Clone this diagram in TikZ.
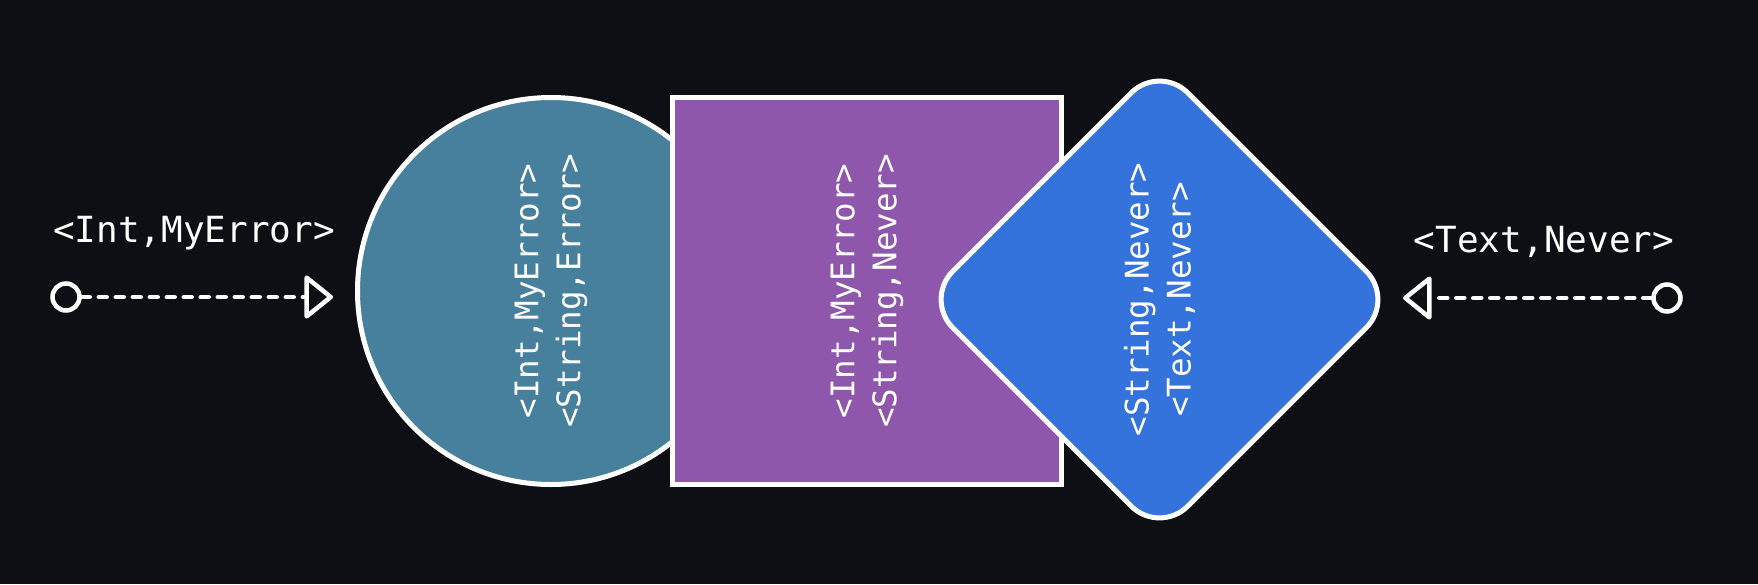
\documentclass[tikz,border=0pt]{standalone}
\usepackage{fontspec}
\setmonofont{DejaVu Sans Mono}
\usetikzlibrary{arrows.meta,shapes.geometric}
\definecolor{bg}{HTML}{0E0F14}
\definecolor{circfill}{HTML}{47809D}
\definecolor{sqfill}{HTML}{8E57AB}
\definecolor{diafill}{HTML}{3473DB}
\begin{document}
\begin{tikzpicture}[x=1pt,y=-1pt,
  shapebox/.style={draw=white,line width=5pt,inner sep=0pt},
  lbl/.style={text=white,font=\ttfamily\fontsize{32.5}{42}\selectfont,align=center,rotate=90},
  outlbl/.style={text=white,font=\ttfamily\fontsize{36}{44}\selectfont,anchor=base},
  port/.style={circle,draw=white,fill=bg,line width=4.5pt,minimum size=27pt,inner sep=0pt},
  conn/.style={draw=white,line width=4.5pt,line cap=round,dash pattern=on 8pt off 9pt,-{Triangle[open,length=30pt,width=47pt,round]}}]
\fill[bg] (0,0) rectangle (1758,584);
\useasboundingbox (0,0) rectangle (1758,584);
\node[shapebox,circle,fill=circfill,minimum size=387pt] (circ) at (551,291) {};
\node[shapebox,rectangle,fill=sqfill,minimum width=389pt,minimum height=387pt] (sq) at (867,291) {};
\node[shapebox,diamond,fill=diafill,minimum width=472pt,minimum height=472pt,rounded corners=40pt] (dia) at (1159.5,299.5) {};
\node[lbl] (circlbl) at (circ.center) {<Int,MyError>\\<String,Error>};
\node[lbl] (sqlbl) at (sq.center) {<Int,MyError>\\<String,Never>};
\node[lbl] (dialbl) at (dia.center) {<String,Never>\\<Text,Never>};
\node[port] (pl) at (66,297) {};
\coordinate (tl) at (333,297);
\draw[conn] (pl) -- (tl);
\node[port] (pr) at (1667,298) {};
\coordinate (tr) at (1403,298);
\draw[conn] (pr) -- (tr);
\node[outlbl] (ltxt) at (194,242) {<Int,MyError>};
\node[outlbl] (rtxt) at (1544,252) {<Text,Never>};
\end{tikzpicture}
\end{document}
